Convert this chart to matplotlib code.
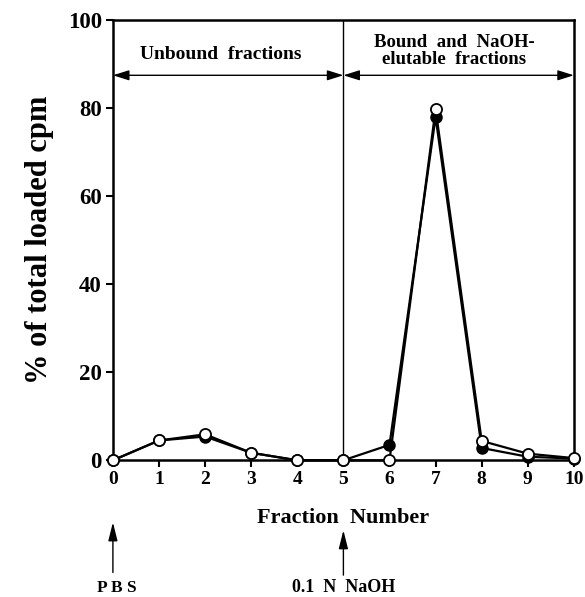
"""Fraction elution profile: % of total loaded cpm per fraction."""

import matplotlib

matplotlib.use("Agg")
import matplotlib.pyplot as plt

fractions = [0, 1, 2, 3, 4, 5, 6, 7, 8, 9, 10]
filled_pct = [0, 4.5, 5.4, 1.7, 0, 0, 3.5, 78.0, 2.8, 0.8, 0.4]
open_pct = [0, 4.5, 5.9, 1.7, 0, 0, 0, 79.8, 4.4, 1.5, 0.5]
y_ticks = [0, 20, 40, 60, 80, 100]

plt.rcParams["font.family"] = ["Liberation Serif", "DejaVu Serif"]
plt.rcParams["font.weight"] = "bold"

fig = plt.figure(figsize=(5.85, 5.97), dpi=100)
ax = fig.add_axes([0.193, 0.229, 0.788, 0.737])

ax.plot(fractions, filled_pct, color="black", lw=1.6, marker="o", ms=8,
        mfc="black", mec="black", clip_on=False, zorder=3)
ax.plot(fractions, open_pct, color="black", lw=1.6, marker="o", ms=8,
        mfc="white", mec="black", mew=1.3, clip_on=False, zorder=4)

ax.set_xlim(0, 10)
ax.set_ylim(0, 100)
ax.set_xticks(fractions)
ax.set_yticks(y_ticks)
ax.tick_params(direction="out", length=5, width=1.5, pad=3)
ax.tick_params(axis="x", labelsize=14)
ax.tick_params(axis="y", labelsize=16.5)
for lbl in ax.get_xticklabels() + ax.get_yticklabels():
    lbl.set_fontweight("bold")
for s in ax.spines.values():
    s.set_linewidth(1.8)

# divider between unbound and bound regions
ax.axvline(5, color="black", lw=1.0, zorder=2)

# double-headed range arrows
arrow = dict(arrowstyle="<|-|>,head_length=0.7,head_width=0.22",
             color="black", lw=1.0, mutation_scale=14, shrinkA=0, shrinkB=0)
ax.annotate("", xy=(0, 87.5), xytext=(5, 87.5), arrowprops=arrow)
ax.annotate("", xy=(5, 87.5), xytext=(10, 87.5), arrowprops=arrow)
ax.text(2.33, 92.3, "Unbound  fractions", ha="center", va="center",
        fontsize=14, fontweight="bold")
ax.text(7.4, 93.0, "Bound  and  NaOH-\nelutable  fractions", ha="center",
        va="center", fontsize=13.5, fontweight="bold", linespacing=0.95)

ax.set_xlabel("Fraction  Number", fontsize=16, fontweight="bold", labelpad=14)
ax.set_ylabel("% of total loaded cpm", fontsize=22, fontweight="bold",
              labelpad=10)

# buffer addition arrows below the axis
up = dict(arrowstyle="-|>,head_length=0.8,head_width=0.2", color="black",
          lw=1.0, mutation_scale=14, shrinkA=0, shrinkB=0)
ax.annotate("", xy=(0, -14.1), xytext=(0, -25.5), xycoords="data",
            arrowprops=up, annotation_clip=False)
ax.annotate("", xy=(5, -15.9), xytext=(5, -26.1), xycoords="data",
            arrowprops=up, annotation_clip=False)
ax.text(0.08, -29.0, "P B S", ha="center", va="center", fontsize=12.5,
        fontweight="bold", clip_on=False)
ax.text(5, -29.0, "0.1  N  NaOH", ha="center", va="center", fontsize=13,
        fontweight="bold", clip_on=False)

fig.savefig("out.png", dpi=100)
